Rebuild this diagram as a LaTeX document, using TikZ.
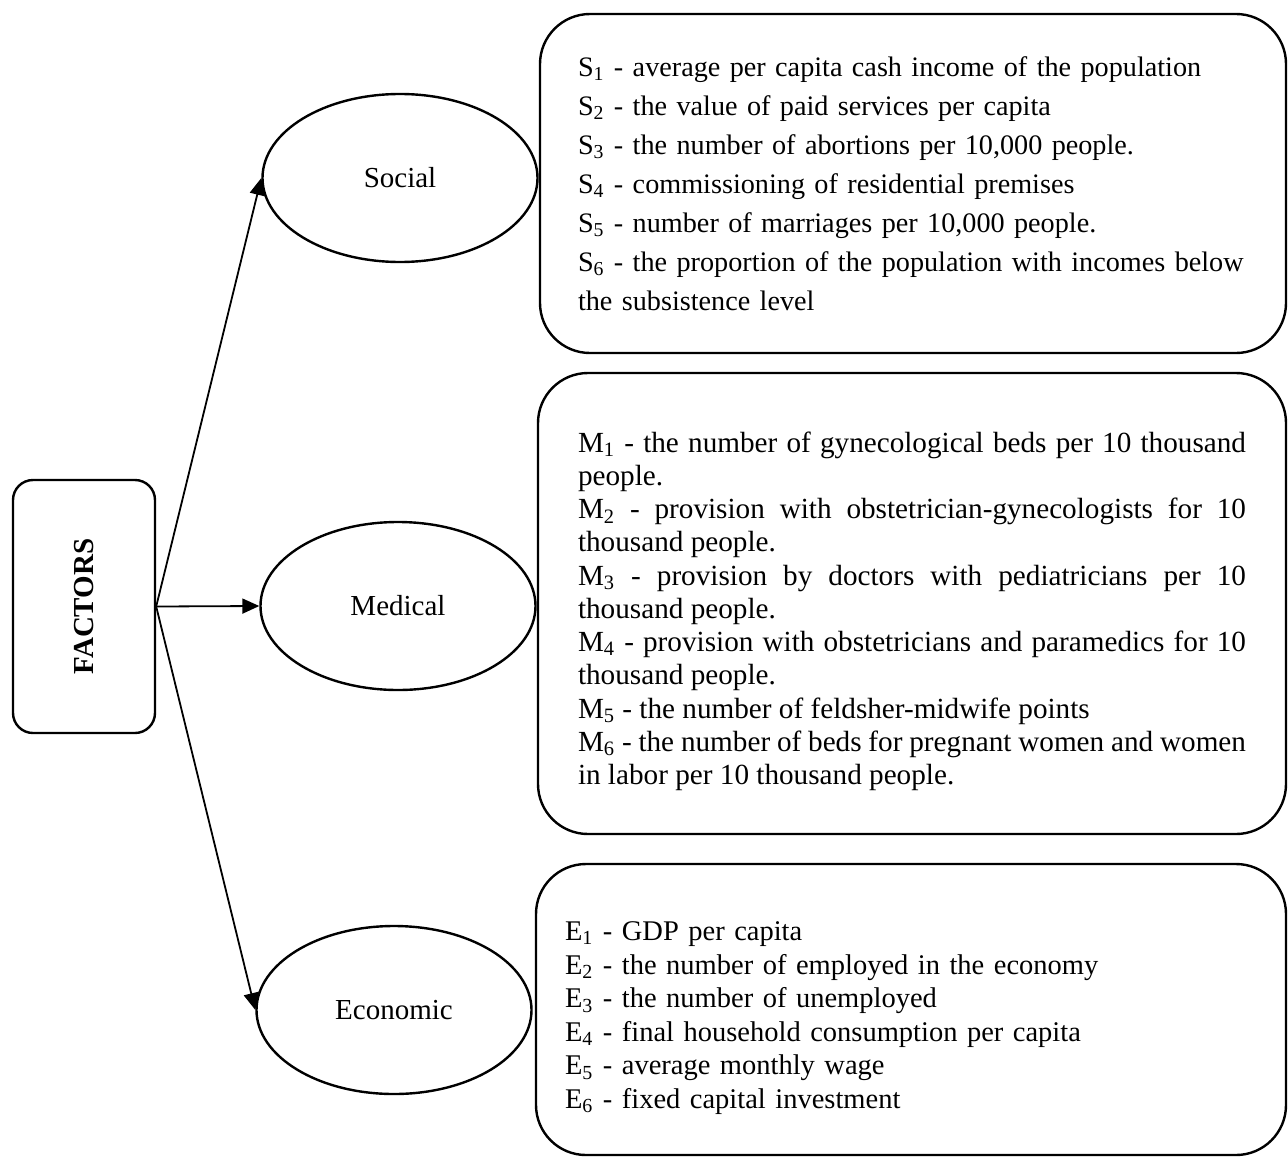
\documentclass[tikz,border=0pt]{standalone}
\usepackage{fontspec}
\setmainfont{Liberation Serif}
\usepackage{tikz}
\usetikzlibrary{shapes.geometric}
\usetikzlibrary{arrows.meta}
\setlength{\parindent}{0pt}
\hyphenpenalty=10000
\exhyphenpenalty=10000

\begin{document}
\begin{tikzpicture}[
  x=0.5pt, y=-0.5pt,
  every node/.style={font=\fontsize{14.5pt}{17pt}\selectfont},
  fact/.style={rectangle, rounded corners=10pt, draw, line width=1.2pt, minimum width=71pt, minimum height=126.5pt},
  grp/.style={ellipse, draw, line width=1.2pt, minimum width=137.5pt, minimum height=84pt, inner sep=0pt},
  lst/.style={rectangle, rounded corners=25pt, draw, line width=1.2pt, inner ysep=0pt},
  arr/.style={line width=0.9pt, -{Triangle[length=8.5pt,width=7.5pt]}},
]
  \useasboundingbox (0,0) rectangle (1288,1156);

  \node[fact] (factors) at (84,606.5) {\rotatebox{90}{\textbf{FACTORS}}};

  \node[grp] (social) at (400,178) {Social};
  \node[grp] (medical) at (398,606) {Medical};
  \node[grp] (economic) at (394,1010) {Economic};

  \node[lst, text width=340pt, inner xsep=16.5pt, minimum height=169.5pt, align=left,
        font=\fontsize{14.1pt}{19.5pt}\selectfont] (sociallist) at (913,183.5) {
    \hspace*{2.5pt}S\textsubscript{1} - average per capita cash income of the population\\
    \hspace*{2.5pt}S\textsubscript{2} - the value of paid services per capita\\
    \hspace*{2.5pt}S\textsubscript{3} - the number of abortions per 10,000 people.\\
    \hspace*{2.5pt}S\textsubscript{4} - commissioning of residential premises\\
    \hspace*{2.5pt}S\textsubscript{5} - number of marriages per 10,000 people.\\
    \hspace*{2.5pt}S\textsubscript{6} - the proportion of the population with incomes below\\
    \hspace*{2.5pt}the subsistence level
  };

  \node[lst, text width=334pt, inner xsep=20pt, minimum height=230.5pt, align=justify,
        font=\fontsize{14.6pt}{16.6pt}\selectfont] (medicallist) at (912,603.5) {
    \rule{0pt}{18pt}M\textsubscript{1} - the number of gynecological beds per 10 thousand people.\par
    M\textsubscript{2} - provision with obstetrician-gynecologists for 10 thousand people.\par
    M\textsubscript{3} - provision by doctors with pediatricians per 10 thousand people.\par
    M\textsubscript{4} - provision with obstetricians and paramedics for 10 thousand people.\par
    M\textsubscript{5} - the number of feldsher-midwife points\par
    M\textsubscript{6} - the number of beds for pregnant women and women in labor per 10 thousand people.
  };

  \node[lst, text width=346pt, inner xsep=14.5pt, minimum height=145.5pt, align=left,
        font=\fontsize{14.25pt}{16.8pt}\selectfont] (economiclist) at (911,1009.5) {
    \rule{0pt}{18pt}E\textsubscript{1} - GDP per capita\\
    E\textsubscript{2} - the number of employed in the economy\\
    E\textsubscript{3} - the number of unemployed\\
    E\textsubscript{4} - final household consumption per capita\\
    E\textsubscript{5} - average monthly wage\\
    E\textsubscript{6} - fixed capital investment
  };

  \draw[arr] (factors.east) -- (social.west);
  \draw[arr] (factors.east) -- (medical.west);
  \draw[arr] (factors.east) -- (economic.west);
\end{tikzpicture}
\end{document}
